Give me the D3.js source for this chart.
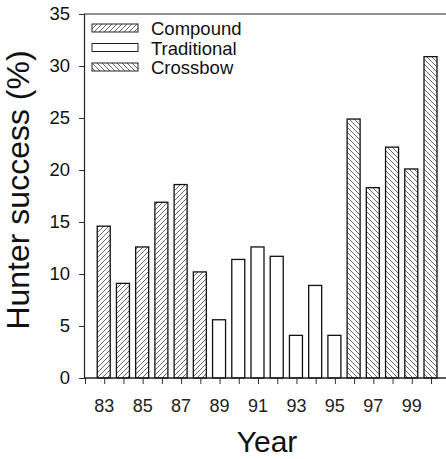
<!DOCTYPE html>
<html>
<head>
<meta charset="utf-8">
<script src="https://cdn.jsdelivr.net/npm/d3@7"></script>
<style>
  body { margin: 0; background: #fff; }
  svg { font-family: "Liberation Sans", Arial, sans-serif; }
</style>
</head>
<body>
<div id="chart"></div>
<script>
    // Data
    var compoundYears = [83, 84, 85, 86, 87, 88];
    var compoundValues = [14.6, 9.1, 12.6, 16.9, 18.6, 10.2];
    var traditionalYears = [89, 90, 91, 92, 93, 94, 95];
    var traditionalValues = [5.6, 11.4, 12.6, 11.7, 4.1, 8.9, 4.1];
    var crossbowYears = [96, 97, 98, 99, 100];
    var crossbowValues = [24.9, 18.3, 22.2, 20.1, 30.9];
    var yTicks = [0, 5, 10, 15, 20, 25, 30, 35];
    var xTickYears = [82, 83, 84, 85, 86, 87, 88, 89, 90, 91, 92, 93, 94, 95, 96, 97, 98, 99, 100];
    var xLabelYears = [83, 85, 87, 89, 91, 93, 95, 97, 99];
    var seriesNames = ["Compound", "Traditional", "Crossbow"];

    var width = 446, height = 459;
    var svg = d3.select("#chart").append("svg")
        .attr("width", width)
        .attr("height", height);

    var x = d3.scaleLinear().domain([82, 100]).range([85, 431]);
    var y = d3.scaleLinear().domain([0, 35]).range([378, 14]);
    var barWidth = 13;

    // Hatch patterns
    var defs = svg.append("defs");
    function hatch(id, dir) {
        var p = defs.append("pattern")
            .attr("id", id)
            .attr("patternUnits", "userSpaceOnUse")
            .attr("width", 5).attr("height", 5);
        p.append("rect").attr("width", 5).attr("height", 5).attr("fill", "#fff");
        var d = dir > 0 ? "M-1,1 l2,-2 M0,5 l5,-5 M4,6 l2,-2" : "M-1,4 l2,2 M0,0 l5,5 M4,-1 l2,2";
        p.append("path").attr("d", d).attr("stroke", "#444").attr("stroke-width", 0.8);
    }
    hatch("hatchCompound", 1);
    hatch("hatchCrossbow", -1);
    var fills = ["url(#hatchCompound)", "#fff", "url(#hatchCrossbow)"];

    // Frame: top line
    svg.append("line")
        .attr("x1", 84).attr("x2", width)
        .attr("y1", y(35)).attr("y2", y(35))
        .attr("stroke", "#222").attr("stroke-width", 1.2);

    // Bars
    var groups = [
        { years: compoundYears, values: compoundValues, fill: fills[0] },
        { years: traditionalYears, values: traditionalValues, fill: fills[1] },
        { years: crossbowYears, values: crossbowValues, fill: fills[2] }
    ];
    groups.forEach(function(g) {
        svg.append("g").selectAll("rect")
            .data(g.values)
            .enter()
            .append("rect")
            .attr("x", function(d, i) { return x(g.years[i]) - barWidth / 2 - 0.5; })
            .attr("y", function(d) { return y(d); })
            .attr("width", barWidth)
            .attr("height", function(d) { return y(0) - y(d); })
            .attr("fill", g.fill)
            .attr("stroke", "#111")
            .attr("stroke-width", 1.3);
    });

    // Y axis
    var yAxisG = svg.append("g").attr("transform", "translate(84,0)");
    yAxisG.call(d3.axisLeft(y).tickValues(d3.range(0, 36, 1)).tickSize(3).tickFormat(""))
        .call(function(g) { g.select(".domain").remove(); });
    yAxisG.call(d3.axisLeft(y).tickValues(yTicks).tickSize(5).tickPadding(9))
        .call(function(g) {
            g.selectAll("text").attr("font-size", 18.5).attr("font-family", "Liberation Sans, Arial, sans-serif").attr("fill", "#111");
        });
    yAxisG.selectAll("line").attr("stroke", "#333");
    yAxisG.selectAll(".domain").attr("stroke", "#222").attr("stroke-width", 1.2);

    // X axis
    var xAxisG = svg.append("g").attr("transform", "translate(0," + y(0) + ")");
    xAxisG.call(d3.axisBottom(x).tickValues(xTickYears).tickSize(6).tickFormat(""));
    xAxisG.select(".domain").remove();
    xAxisG.append("line")
        .attr("x1", 84).attr("x2", width)
        .attr("stroke", "#222").attr("stroke-width", 1.5);
    xAxisG.selectAll(".tick line").attr("stroke", "#333");
    svg.append("g").selectAll("text")
        .data(xLabelYears)
        .enter()
        .append("text")
        .attr("x", function(d) { return x(d); })
        .attr("y", 412)
        .attr("text-anchor", "middle")
        .attr("font-size", 18)
        .attr("fill", "#222")
        .text(function(d) { return d; });

    // Axis titles
    svg.append("text")
        .attr("x", 267).attr("y", 452)
        .attr("text-anchor", "middle")
        .attr("font-size", 30)
        .attr("fill", "#111")
        .text("Year");
    svg.append("text")
        .attr("transform", "translate(29,190) rotate(-90)")
        .attr("text-anchor", "middle")
        .attr("font-size", 32)
        .attr("fill", "#111")
        .text("Hunter success (%)");

    // Legend
    var legend = svg.append("g").attr("transform", "translate(92,24)");
    var rows = legend.selectAll("g")
        .data(seriesNames)
        .enter()
        .append("g")
        .attr("transform", function(d, i) { return "translate(0," + (i * 19.5) + ")"; });
    rows.append("rect")
        .attr("width", 46).attr("height", 8)
        .attr("fill", function(d, i) { return fills[i]; })
        .attr("stroke", "#222").attr("stroke-width", 1);
    rows.append("text")
        .attr("x", 59).attr("y", 11)
        .attr("font-size", 18.5)
        .attr("fill", "#111")
        .text(function(d) { return d; });
</script>
</body>
</html>
